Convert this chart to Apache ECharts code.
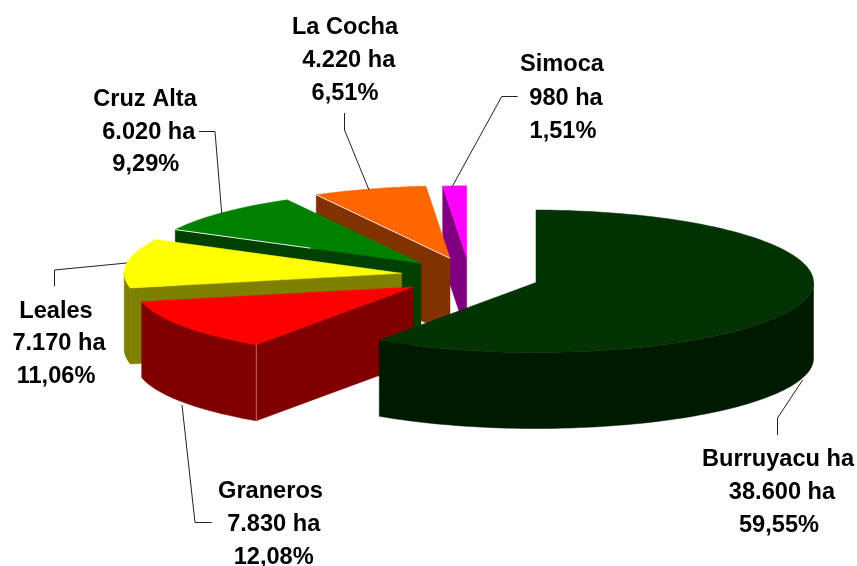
<!DOCTYPE html>
<html>
<head>
<meta charset="utf-8">
<style>html,body{margin:0;padding:0;background:#fff}#c{width:857px;height:566px}</style>
<script src="https://cdn.jsdelivr.net/npm/echarts@6/dist/echarts.min.js"></script>
</head>
<body>
<div id="c"></div>
<script>
// Data, clockwise from 12 o'clock
var categories = ['Burruyacu ha', 'Graneros', 'Leales', 'Cruz Alta', 'La Cocha', 'Simoca'];
var hectares = [38600, 7830, 7170, 6020, 4220, 980];

// Styles
var topColors = ['#033303', '#ff0000', '#ffff00', '#008000', '#ff6600', '#ff00ff'];
var sideColors = ['#001a00', '#800000', '#808000', '#004000', '#803300', '#800080'];

// Layout of the tilted, exploded pie
var apexes = [[536, 282.5], [413, 287], [401.7, 273.3], [421, 263.3], [450, 258.3], [466.7, 258.3]];
var RX = 277.5, RY_BACK = 72.5, RY_FRONT = 70, DEPTH = 76;
var labelLines = [
  [[778, 458], [782, 491], [779, 524]],
  [[270.5, 490], [273.7, 523], [273.7, 556]],
  [[56, 310], [59, 342], [56, 375]],
  [[145, 98], [148.8, 131], [145.8, 163]],
  [[345, 26], [348.7, 59], [345, 92]],
  [[562, 63], [566, 97], [563, 130]]
];
var LABEL_DY = 1.5;
var leaders = [
  [[777.5, 435], [777.5, 418], [802.7, 380]],
  [[211.7, 522.5], [195, 522.5], [182, 405]],
  [[54.5, 286], [54.5, 270], [126.7, 263]],
  [[199, 131.5], [215, 131.5], [221.7, 213]],
  [[344.5, 113], [344.5, 130], [369, 190]],
  [[517.7, 96.5], [501.7, 96.5], [452, 187]]
];

var total = hectares.reduce(function (a, b) { return a + b; }, 0);
var angles = [], acc = 0;
hectares.forEach(function (v) {
  var s = acc / total * 360;
  acc += v;
  angles.push([s, acc / total * 360]);
});
function fmtHa(v) { return String(v).replace(/\B(?=(\d{3})+$)/g, '.') + ' ha'; }
function fmtPct(v) { return (v / total * 100).toFixed(2).replace('.', ',') + '%'; }

function rim(apex, deg, drop) {
  var r = deg * Math.PI / 180, c = Math.cos(r);
  // slight narrowing right at the far edge, as the tilted view shows it
  var narrow = 1 - 0.1 * Math.pow(Math.max(0, c), 30);
  return [apex[0] + RX * narrow * Math.sin(r), apex[1] - (c >= 0 ? RY_BACK : RY_FRONT) * c + (drop || 0)];
}
function arc(apex, a, b, drop) {
  var pts = [], n = Math.max(2, Math.ceil((b - a) / 1.5));
  for (var i = 0; i <= n; i++) pts.push(rim(apex, a + (b - a) * i / n, drop));
  return pts;
}
function poly(points, color) {
  return { type: 'polygon', shape: { points: points }, style: { fill: color, stroke: color, lineWidth: 0.5 } };
}
function line(points, color, w) {
  return { type: 'polyline', shape: { points: points }, style: { fill: null, stroke: color, lineWidth: w || 1 } };
}

function renderSlice(params, api) {
  var i = api.value(0), apex = apexes[i], a = angles[i][0], b = angles[i][1];
  var side = sideColors[i], kids = [];
  var down = [apex[0], apex[1] + DEPTH];
  // start cut face
  if (Math.sin(a * Math.PI / 180) < -1e-6) {
    var p = rim(apex, a);
    kids.push(poly([apex, p, [p[0], p[1] + DEPTH], down], side));
  }
  // end cut face
  if (Math.sin(b * Math.PI / 180) > 1e-6) {
    var q = rim(apex, b);
    kids.push(poly([apex, q, [q[0], q[1] + DEPTH], down], side));
  }
  // outer wall (front half only)
  var wa = Math.max(a, 90), wb = Math.min(b, 270);
  if (wb > wa) {
    kids.push(poly(arc(apex, wa, wb).concat(arc(apex, wa, wb, DEPTH).reverse()), side));
  }
  // top face
  kids.push(poly([apex].concat(arc(apex, a, b)), topColors[i]));
  // highlights along the cut edge
  if (i === 1) {
    var c1 = rim(apex, a);
    kids.push(line([c1, [c1[0], c1[1] + DEPTH]], '#c86a6a', 1));
  }
  if (i === 4) kids.push(line([rim(apex, a), apex], '#f3e2d6', 1));
  if (i === 3) {
    var c3 = rim(apex, a);
    kids.push(line([c3, [c3[0] + 0.55 * (apex[0] - c3[0]), c3[1] + 0.55 * (apex[1] - c3[1])]], '#e6f0e6', 1));
  }
  // leader line
  kids.push(line(leaders[i], '#222222', 1));
  // label
  var texts = [categories[i], fmtHa(api.value(1)), fmtPct(api.value(1))];
  texts.forEach(function (t, k) {
    kids.push({
      type: 'text', z2: 10,
      style: {
        text: t, x: labelLines[i][k][0], y: labelLines[i][k][1] + LABEL_DY,
        textAlign: 'center', textVerticalAlign: 'middle',
        fill: '#000000', font: 'bold 23.6px "Liberation Sans", Arial, sans-serif'
      }
    });
  });
  return { type: 'group', children: kids };
}

// paint back to front: the far small slices first, the big near one last
var seriesData = hectares.map(function (v, i) { return [i, v]; }).reverse();

var chart = echarts.init(document.getElementById('c'), null, { renderer: 'canvas' });
chart.setOption({
  animation: false,
  backgroundColor: '#ffffff',
  series: [{
    type: 'custom',
    coordinateSystem: 'none',
    silent: true,
    renderItem: renderSlice,
    dimensions: ['slice', 'hectares'],
    encode: { value: 1 },
    data: seriesData
  }]
});
</script>
</body>
</html>
